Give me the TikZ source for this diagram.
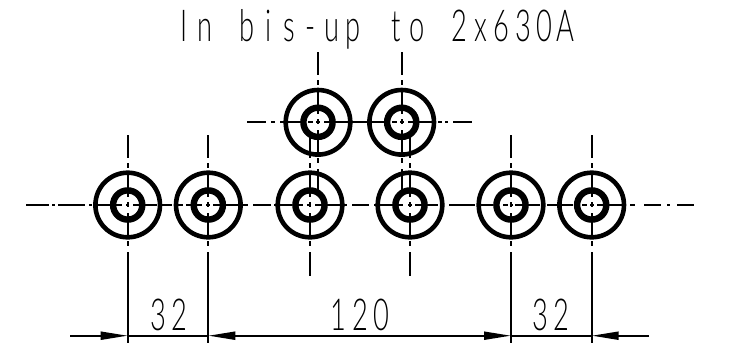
\documentclass[tikz,border=0pt]{standalone}
\usepackage{fontspec}
\newfontfamily\iso[FakeStretch=.62]{Lato Light}
\newcommand\mc[1]{\makebox[21.2pt][c]{#1}}
\usetikzlibrary{arrows.meta}
\tikzset{
  ringout/.style={circle,draw,line width=4.6pt,minimum size=64.6pt,inner sep=0pt,outer sep=0pt},
  ringin/.style={circle,draw,line width=6.4pt,minimum size=29.2pt,inner sep=0pt,outer sep=0pt},
  cl/.style={line width=2pt,black},
  vdashA/.style={cl,dash pattern=on 23pt off 5pt on 5pt off 6pt},
  dimline/.style={line width=2pt,black},
  lab/.style={font=\iso\fontsize{44}{44}\selectfont,anchor=base,inner sep=0pt,text=black}
}
\begin{document}
\begin{tikzpicture}[x=1pt,y=-1pt]
\useasboundingbox (0,0) rectangle (732,349);
% circles
\foreach \n/\x in {a/127.7,b/208.3,c/310,d/410,e/511,f/591.7}{
  \node[ringout] (\n) at (\x,205) {};
  \node[ringin] (\n i) at (\x,205) {};
  \coordinate (\n t) at (\x,135);
  \coordinate (\n x) at (\x,252);
}
\foreach \n/\x in {g/318,h/401.7}{
  \node[ringout] (\n) at (\x,122.3) {};
  \node[ringin] (\n i) at (\x,122.3) {};
  \coordinate (\n t) at (\x,52);
  \coordinate (\n b) at (\x,190);
}
\foreach \n/\x in {a/127.7,b/208.3,e/511,f/591.7}{\coordinate (\n e) at (\x,343);}
\coordinate (ce) at (310,276);
\coordinate (de) at (410,276);
% centre lines
\coordinate (hl) at (26,205); \coordinate (hr) at (694,205);
\coordinate (tl) at (247,122.3); \coordinate (tr) at (472,122.3);
\draw[cl,dash pattern=on 23pt off 3pt on 3pt off 3pt on 27pt off 4pt on 3pt off 4pt on 26pt off 4pt on 3pt off 4pt on 24pt off 3pt on 12pt off 4pt on 7pt off 3pt on 16pt off 4pt on 4pt off 3pt on 29pt off 1pt on 5pt off 5pt on 18pt off 3pt on 18pt off 6pt on 5pt off 4pt on 4pt off 4pt on 27pt off 1.5pt on 3pt off 5.5pt on 17pt off 5pt on 19pt off 5pt on 5pt off 5pt on 4pt off 3pt on 23pt off 11pt on 26pt off 3pt on 15pt off 10pt on 5pt off 1.5pt on 3pt off 2.5pt on 25pt off 7pt on 26pt off 9pt on 5pt off 3pt on 4pt off 3pt on 26pt off 7pt on 5pt off 9pt on 17pt off 6pt on 3pt off 7pt on 17pt off 50pt] (hl) -- (hr);
\draw[cl,dash pattern=on 19pt off 5pt on 4pt off 5pt on 23pt off 5pt on 5pt off 3pt on 4pt off 4pt on 43pt off 4pt on 16pt off 5pt on 5pt off 3pt on 4pt off 4pt on 25pt off 5pt on 4pt off 3pt on 3pt off 5pt on 19pt off 50pt] (tl) -- (tr);
\foreach \n in {a,b,c,d,e,f}{
  \draw[vdashA] (\n t) -- (\n x);
  \draw[cl] (\n x) -- (\n e);
}
\foreach \n in {g,h}{ \draw[vdashA] (\n t) -- (\n b); }
% dimensions
\coordinate (dl) at (70,335.7);
\coordinate (dr) at (649,335.7);
\coordinate (da) at (127.7,335.7);
\coordinate (db) at (208.3,335.7);
\coordinate (de2) at (511,335.7);
\coordinate (df) at (591.7,335.7);
\draw[dimline,-{Stealth[length=27pt,width=8pt,inset=0pt]}] (dl) -- (da);
\draw[dimline] (da) -- (db);
\draw[dimline,{Stealth[length=27pt,width=8pt,inset=0pt]}-{Stealth[length=27pt,width=8pt,inset=0pt]}] (db) -- (de2);
\draw[dimline] (de2) -- (df);
\draw[dimline,-{Stealth[length=27pt,width=8pt,inset=0pt]}] (dr) -- (df);
% labels
\node[lab] (title) at (374.5,41.5) {\mc{I}\mc{n}\mc{ }\mc{b}\mc{i}\mc{s}\mc{-}\mc{u}\mc{p}\mc{ }\mc{t}\mc{o}\mc{ }\mc{2}\mc{x}\mc{6}\mc{3}\mc{0}\mc{A}};
\node[lab] (d1) at (169,330) {\mc{3}\mc{2}};
\node[lab] (d2) at (360,330) {\mc{1}\mc{2}\mc{0}};
\node[lab] (d3) at (551,330) {\mc{3}\mc{2}};
\end{tikzpicture}
\end{document}
